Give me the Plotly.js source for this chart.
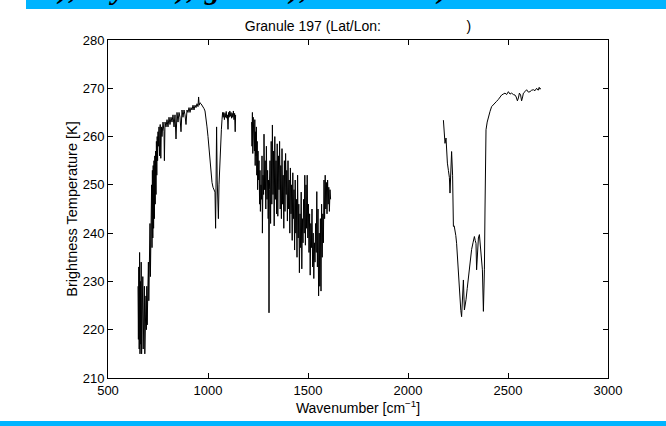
<!DOCTYPE html>
<html>
<head>
<meta charset="utf-8">
<script src="https://cdn.plot.ly/plotly-3.0.1.min.js"></script>
<style>html,body{margin:0;padding:0;background:#fff;}#chart{width:666px;height:426px;}</style>
</head>
<body>
<div id="chart"></div>
<script>
// Segment 1: 650 - 1138 cm-1
const wnA = [650,652,654,656,658,660,662,664,666,668,670,672,674,676,678,680,682,684,686,688,690,692,694,696,698,700,702,704,706,708,710,712,714,716,718,720,722,724,726,728,730,732,734,736,738,740,742,744,746,748,750,752,755,758,761,764,767,770,775,780,782,785,790,795,800,805,810,815,820,825,830,835,840,845,850,855,860,865,870,875,880,885,890,895,900,905,910,915,920,925,930,935,940,945,950,953,956,960,965,970,975,980,985,990,995,1000,1005,1010,1015,1020,1025,1030,1035,1038,1041,1043,1046,1049,1052,1055,1058,1061,1064,1067,1070,1073,1076,1079,1082,1085,1088,1091,1094,1097,1100,1103,1106,1109,1112,1115,1118,1121,1124,1127,1130,1133,1136,1138];
const btA = [229,218,233,216,236,215,230,217,234,215,228,219,231,216,226,220,229,215,224,218,227,220,229,221,230,224,234,226,238,228,242,231,247,235,250,237,253,239,254,241,255,243,256,246,257,248,259,252,260,255,261,258,262,256,262.5,255.5,262,260,263,261,255,263,262,263.5,262,264,262.5,264,263,264.5,262,264.5,259.5,265,263,265,264,261,265.5,264,265.5,264.5,262.5,265.5,265,266,265,266,265.5,266.5,265.5,266.5,266,266.8,266.2,268.2,266.5,267,266.8,266.5,266.2,265.8,265.3,264,262,260,257.5,255,252,250.5,249.5,249,248.5,241,249,262,251,246,243,250,254,257,259.5,261.5,263.5,265,264,265,263.5,264.8,264,265.2,263.8,264.5,261.5,265,264,265.3,264.2,265,263.8,264.8,264,265.3,263.5,264.8,261,264.5];

// Segment 2: 1218 - 1613 cm-1
const wnB = [1218,1220,1222,1224,1226,1228,1230,1232,1234,1236,1238,1240,1242,1244,1246,1248,1250,1252,1255,1258,1260,1262,1265,1268,1270,1272,1275,1278,1280,1283,1286,1289,1292,1295,1298,1301,1303,1305,1307,1310,1313,1316,1319,1322,1325,1328,1331,1334,1337,1340,1343,1346,1349,1352,1355,1358,1361,1364,1367,1370,1373,1376,1379,1382,1385,1388,1391,1394,1397,1400,1403,1406,1409,1412,1415,1418,1421,1424,1427,1430,1433,1436,1439,1442,1445,1448,1451,1454,1457,1460,1463,1466,1469,1472,1475,1478,1481,1484,1487,1490,1493,1496,1499,1502,1505,1508,1511,1514,1517,1520,1523,1526,1529,1532,1535,1538,1541,1544,1547,1550,1553,1556,1559,1562,1565,1568,1571,1574,1577,1580,1583,1586,1589,1592,1595,1598,1601,1604,1607,1610,1613];
const btB = [263,258,265,256.5,264,260,262.5,257,263.5,254,261,256,262,252,259,249,257,251,255,246,253,244.5,250,247,256,240,252,248,260.5,249,255,245,258,247,253,243,251,223.5,249,255,242,259,246,262.4,248,257,241.5,260,247,255,244,258.5,243.5,256,249,259,245,254,243,257.5,246,252,241,255,244.5,256.5,248,253,242.5,255,245,251,240,253.5,244,250,238.5,252.5,243,249,236.5,251,240,247,235,252,239,246,231.8,244,237,248.5,232.6,243,238,247,240,252,237.5,250,241,252,239,246,236,244,231.3,242,237,245,233,240,230.6,238,234,242,236,248.6,233,245,227,240,229,243,228,246,235,244,238,251,243,252,245,250.5,244,251,246,249.5,244.5,249,247];

// Segment 3: 2177 - 2663 cm-1
const wnC = [2177,2181,2185,2190,2194,2197,2202,2207,2210,2214,2218,2223,2227,2231,2235,2239,2243,2247,2252,2256,2260,2264,2268,2272,2277,2282,2286,2290,2296,2302,2310,2318,2325,2332,2336,2340,2343,2348,2352,2357,2361,2365,2369,2372,2377,2380,2382,2385,2387,2390,2396,2402,2410,2418,2426,2435,2443,2452,2460,2468,2476,2485,2493,2502,2510,2518,2527,2535,2541,2547,2552,2557,2563,2568,2573,2577,2585,2593,2602,2610,2618,2627,2635,2643,2651,2656,2660,2663];
const btC = [263.4,260.5,258.6,259.7,256,254.5,253,251.5,248.3,252,256.9,252,241.4,241.5,240.7,239.5,237.9,235,231.7,229,226.2,224,222.7,226,230.3,224.1,225,226.2,228.5,231,234,236.6,238,239.3,238.5,237.9,232.4,238.6,239,239.7,238,236.6,234,232.4,223.8,228,232.4,245,253.1,261.4,263,264.1,265.2,266.2,266.5,267,267.3,267.7,268.2,268.6,268.8,269,268.7,269.3,268.8,269,268.7,268.6,268.2,267.4,268,269,268.6,267.4,268.2,269,269.3,269.7,269.2,269.3,269.6,269.7,269.5,270,269.6,270.2,269.8,270];

const yTicks = [210,220,230,240,250,260,270,280];
const xTicks = [500,1000,1500,2000,2500,3000];

const xs = wnA.concat([null], wnB, [null], wnC);
const ys = btA.concat([null], btB, [null], btC);

const trace = {
  x: xs, y: ys, type: 'scatter', mode: 'lines',
  line: {color: '#000000', width: 1}, connectgaps: false, hoverinfo: 'skip'
};

const px2x = p => (p - 108) / 500;
const py2y = p => (378 - p) / 338;

const headerGlyphs = ['),', 'y', '),', 'g', '),', ')'];
const headerX = [66, 117, 184, 212, 297, 441];

const annotations = headerGlyphs.map((g, i) => ({
  text: g, xref: 'paper', yref: 'paper', x: px2x(headerX[i]), y: py2y(6.5),
  xanchor: 'center', yanchor: 'bottom', showarrow: false,
  font: {family: 'Liberation Serif', size: 30, color: '#000', style: 'italic', weight: 'bold'}
}));

const layout = {
  width: 666, height: 426,
  margin: {l: 108, r: 58, t: 40, b: 48},
  paper_bgcolor: '#ffffff', plot_bgcolor: '#ffffff',
  showlegend: false,
  font: {family: 'Liberation Sans, Arial, sans-serif', color: '#000', size: 13},
  title: {
    text: 'Granule 197 (Lat/Lon:\u00a0\u00a0\u00a0\u00a0\u00a0\u00a0\u00a0\u00a0\u00a0\u00a0\u00a0\u00a0\u00a0\u00a0\u00a0\u00a0\u00a0\u00a0\u00a0\u00a0\u00a0\u00a0)',
    font: {family: 'Liberation Sans, Arial, sans-serif', size: 14, color: '#000'},
    xref: 'paper', x: 0.5, xanchor: 'center', yref: 'container', y: 1 - 26/426, yanchor: 'middle'
  },
  xaxis: {
    range: [500, 3000], tickvals: xTicks, ticktext: xTicks.map(String),
    ticks: 'inside', ticklen: 5, tickcolor: '#000', tickwidth: 1,
    showline: true, linecolor: '#000', linewidth: 1, mirror: 'ticks',
    showgrid: false, zeroline: false,
    tickfont: {size: 13, color: '#000'},
    title: {text: 'Wavenumber [cm<sup>\u22121</sup>]', font: {size: 14, color: '#000'}, standoff: 6}
  },
  yaxis: {
    range: [210, 280], tickvals: yTicks, ticktext: yTicks.map(String),
    ticks: 'inside', ticklen: 5, tickcolor: '#000', tickwidth: 1,
    showline: true, linecolor: '#000', linewidth: 1, mirror: 'ticks',
    showgrid: false, zeroline: false,
    tickfont: {size: 13, color: '#000'},
    title: {text: 'Brightness Temperature [K]', font: {size: 14.5, color: '#000'}, standoff: 1}
  },
  shapes: [
    {type: 'rect', xref: 'paper', yref: 'paper', x0: px2x(26), x1: px2x(666), y0: py2y(9), y1: py2y(-2),
     fillcolor: '#00b4ff', line: {width: 0}, layer: 'below'},
    {type: 'rect', xref: 'paper', yref: 'paper', x0: px2x(-2), x1: px2x(668), y0: py2y(428), y1: py2y(421),
     fillcolor: '#00b4ff', line: {width: 0}, layer: 'below'}
  ],
  annotations: annotations
};

Plotly.newPlot('chart', [trace], layout, {displayModeBar: false, staticPlot: true});
</script>
</body>
</html>
